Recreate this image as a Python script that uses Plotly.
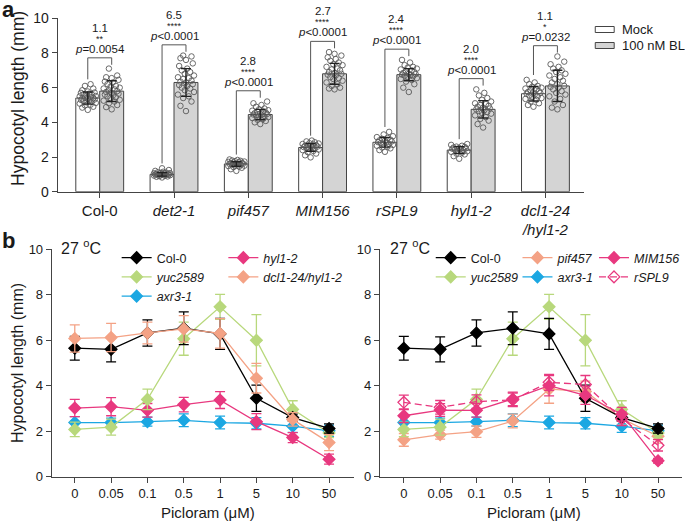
import plotly.graph_objects as go

W, H = 685, 521
def px(x): return x / W
def py(y): return 1 - y / H

FONT = "Liberation Sans, Arial, sans-serif"
TXT = "#1a1a1a"
AX = "#444444"

# ---------------- Panel a data ----------------
tick_text_a = ["Col-0", "<i>det2-1</i>", "<i>pif457</i>", "<i>MIM156</i>", "<i>rSPL9</i>",
               "<i>hyl1-2</i>", "<i>dcl1-24</i><br><i>/hyl1-2</i>"]
mock_mean = [5.4, 1.0, 1.6, 2.55, 2.85, 2.4, 5.65]
bl_mean = [5.8, 6.3, 4.45, 6.8, 6.75, 4.75, 6.1]
mock_sd = [0.35, 0.1, 0.13, 0.22, 0.28, 0.2, 0.42]
bl_sd = [0.6, 0.8, 0.3, 0.6, 0.35, 0.5, 0.9]
fold_change = ["1.1", "6.5", "2.8", "2.7", "2.4", "2.0", "1.1"]
stars = ["**", "****", "****", "****", "****", "****", "*"]
p_values = ["<i>p</i>=0.0054", "<i>p</i>&lt;0.0001", "<i>p</i>&lt;0.0001", "<i>p</i>&lt;0.0001",
            "<i>p</i>&lt;0.0001", "<i>p</i>&lt;0.0001", "<i>p</i>=0.0232"]

col0_mock = [4.72, 4.85, 4.9, 4.98, 5.02, 5.08, 5.12, 5.15, 5.2, 5.22, 5.25, 5.3, 5.32, 5.35, 5.38, 5.4,
             5.42, 5.45, 5.5, 5.52, 5.55, 5.6, 5.62, 5.65, 5.7, 5.72, 5.78, 5.85, 5.95, 6.1, 6.2]
col0_bl = [4.75, 4.88, 5.0, 5.1, 5.2, 5.25, 5.3, 5.4, 5.45, 5.5, 5.55, 5.6, 5.65, 5.7, 5.75, 5.8, 5.85,
           5.9, 5.95, 6.0, 6.05, 6.1, 6.2, 6.3, 6.35, 6.45, 6.55, 6.6, 6.7, 7.1]
det2_mock = [0.82, 0.86, 0.88, 0.9, 0.92, 0.93, 0.95, 0.96, 0.97, 0.98, 0.99, 1.0, 1.0, 1.01, 1.02, 1.03,
             1.04, 1.05, 1.06, 1.07, 1.08, 1.1, 1.12, 1.15, 1.2, 1.25, 1.35]
det2_bl = [4.65, 4.95, 5.2, 5.4, 5.5, 5.6, 5.75, 5.85, 5.95, 6.0, 6.1, 6.15, 6.2, 6.3, 6.35, 6.4, 6.5,
           6.55, 6.6, 6.7, 6.8, 6.9, 7.0, 7.1, 7.25, 7.4, 7.6, 7.7, 7.8, 7.85]
pif_mock = [1.2, 1.3, 1.38, 1.42, 1.45, 1.48, 1.5, 1.52, 1.55, 1.57, 1.58, 1.6, 1.62, 1.63, 1.65, 1.66,
            1.68, 1.7, 1.72, 1.74, 1.76, 1.78, 1.8, 1.83, 1.86]
pif_bl = [3.9, 4.0, 4.08, 4.15, 4.2, 4.25, 4.3, 4.33, 4.36, 4.4, 4.42, 4.45, 4.48, 4.5, 4.53, 4.56,
          4.6, 4.63, 4.67, 4.7, 4.75, 4.8, 4.9, 5.0, 5.1, 5.2]
mim_mock = [1.98, 2.1, 2.2, 2.28, 2.35, 2.4, 2.43, 2.46, 2.5, 2.52, 2.55, 2.57, 2.6, 2.62, 2.65, 2.68,
            2.7, 2.72, 2.75, 2.78, 2.8, 2.85, 2.9, 2.95]
mim_bl = [5.9, 5.95, 6.0, 6.1, 6.2, 6.3, 6.4, 6.5, 6.55, 6.6, 6.7, 6.75, 6.8, 6.85, 6.9, 7.0, 7.05, 7.1,
          7.2, 7.3, 7.35, 7.45, 7.55, 7.65, 7.75, 7.85, 7.95, 8.05]
rspl_mock = [2.3, 2.4, 2.5, 2.55, 2.6, 2.65, 2.7, 2.72, 2.75, 2.8, 2.83, 2.86, 2.9, 2.93, 2.96, 3.0,
             3.05, 3.1, 3.15, 3.2, 3.3, 3.45]
rspl_bl = [5.75, 6.0, 6.2, 6.35, 6.45, 6.5, 6.55, 6.6, 6.65, 6.7, 6.72, 6.75, 6.78, 6.8, 6.85, 6.9,
           6.95, 7.0, 7.05, 7.1, 7.15, 7.2, 7.3, 7.45, 7.6]
hyl_mock = [1.9, 2.05, 2.15, 2.2, 2.25, 2.3, 2.33, 2.36, 2.4, 2.42, 2.45, 2.48, 2.5, 2.52, 2.55, 2.58,
            2.6, 2.65, 2.7, 2.75]
hyl_bl = [3.7, 3.9, 4.1, 4.2, 4.3, 4.4, 4.5, 4.55, 4.6, 4.65, 4.7, 4.75, 4.8, 4.85, 4.9, 4.95, 5.0,
          5.05, 5.1, 5.2, 5.3, 5.4, 5.55, 5.7, 5.9]
dcl_mock = [4.9, 5.0, 5.1, 5.2, 5.3, 5.35, 5.4, 5.45, 5.5, 5.55, 5.6, 5.65, 5.7, 5.72, 5.75, 5.8, 5.85,
            5.9, 5.95, 6.0, 6.05, 6.1, 6.2, 6.3, 6.45]
dcl_bl = [4.75, 4.85, 5.0, 5.2, 5.35, 5.5, 5.6, 5.7, 5.8, 5.9, 6.0, 6.05, 6.1, 6.2, 6.3, 6.4, 6.5,
          6.6, 6.7, 6.8, 6.9, 7.0, 7.1, 7.2, 7.35, 7.5, 7.8]
mock_points = [col0_mock, det2_mock, pif_mock, mim_mock, rspl_mock, hyl_mock, dcl_mock]
bl_points = [col0_bl, det2_bl, pif_bl, mim_bl, rspl_bl, hyl_bl, dcl_bl]

# ---------------- Panel b data ----------------
picloram = ["0", "0.05", "0.1", "0.5", "1", "5", "10", "50"]
col0_b = [5.65, 5.6, 6.32, 6.53, 6.28, 3.45, 2.6, 2.12]
col0_b_sd = [0.52, 0.55, 0.58, 0.72, 0.68, 0.58, 0.15, 0.2]
yuc_b = [2.08, 2.18, 3.4, 6.07, 7.47, 6.0, 2.96, 1.92]
yuc_b_sd = [0.32, 0.35, 0.45, 0.73, 0.55, 1.13, 0.38, 0.2]
hyl_b = [3.02, 3.08, 2.92, 3.17, 3.37, 2.42, 1.72, 0.77]
hyl_b_sd = [0.38, 0.4, 0.3, 0.32, 0.37, 0.35, 0.22, 0.22]
dcl_b = [6.08, 6.12, 6.32, 6.5, 6.3, 4.33, 2.52, 1.5]
dcl_b_sd = [0.6, 0.62, 0.48, 0.58, 0.65, 0.65, 0.3, 0.35]
axr_b = [2.38, 2.38, 2.42, 2.48, 2.38, 2.35, 2.22, 2.02]
axr_b_sd = [0.26, 0.2, 0.2, 0.28, 0.28, 0.25, 0.27, 0.25]
pif_b = [1.62, 1.85, 1.98, 2.45, 3.85, 3.75, 2.55, 1.78]
pif_b_sd = [0.28, 0.2, 0.25, 0.3, 0.62, 0.45, 0.28, 0.3]
mim_b = [2.68, 2.93, 2.92, 3.42, 4.0, 3.58, 2.75, 0.7]
mim_b_sd = [0.3, 0.28, 0.3, 0.3, 0.45, 0.4, 0.3, 0.1]
rspl_b = [3.27, 3.05, 3.3, 3.38, 4.15, 4.05, 2.55, 1.38]
rspl_b_sd = [0.32, 0.3, 0.3, 0.3, 0.35, 0.4, 0.3, 0.25]

C_BLACK = "#000000"
C_GREEN = "#b8d87c"
C_PINK = "#e8387f"
C_SALMON = "#f4a285"
C_BLUE = "#1ba7e2"

fig = go.Figure()

# ---------------- Panel a ----------------
BW = 0.322
n = len(mock_mean)
mock_x = [i - BW / 2 for i in range(n)]
bl_x = [i + BW / 2 for i in range(n)]

fig.add_trace(go.Bar(x=mock_x, y=mock_mean, width=BW, marker=dict(color="white", line=dict(color=AX, width=1)),
                     showlegend=False, xaxis="x", yaxis="y"))
fig.add_trace(go.Bar(x=bl_x, y=bl_mean, width=BW, marker=dict(color="#d4d4d4", line=dict(color=AX, width=1)),
                     showlegend=False, xaxis="x", yaxis="y"))

SWARM = [0.0, -0.55, 0.55, -0.28, 0.28, -0.8, 0.8, -0.12, 0.42, -0.42, 0.12, -0.68, 0.68]
def swarm_x(center, values, half=0.135):
    order = sorted(range(len(values)), key=lambda k: values[k])
    xs = [0.0] * len(values)
    for rank, k in enumerate(order):
        xs[k] = center + SWARM[rank % len(SWARM)] * half
    return xs

pt_x, pt_y = [], []
for i in range(n):
    pt_x += swarm_x(mock_x[i], mock_points[i]); pt_y += mock_points[i]
    pt_x += swarm_x(bl_x[i], bl_points[i]); pt_y += bl_points[i]
fig.add_trace(go.Scatter(x=pt_x, y=pt_y, mode="markers", showlegend=False, xaxis="x", yaxis="y",
                         marker=dict(symbol="circle-open", size=5.5, color="#5a5a5a", line=dict(width=0.9))))
fig.add_trace(go.Scatter(x=mock_x + bl_x, y=mock_mean + bl_mean, mode="markers", showlegend=False,
                         xaxis="x", yaxis="y", marker=dict(size=1, opacity=0),
                         error_y=dict(type="data", array=mock_sd + bl_sd, color="#222", thickness=1.4, width=5)))

shapes = []
annotations = []
for i in range(n):
    top_bl = max(bl_points[i])
    top_m = max(mock_points[i])
    yb = max(top_bl, top_m) + 0.62
    shapes.append(dict(type="path", xref="x", yref="y",
                       path=f"M {mock_x[i]},{top_m + 0.28} L {mock_x[i]},{yb} L {bl_x[i]},{yb} L {bl_x[i]},{top_bl + 0.22}",
                       line=dict(color="#555", width=1)))
    for txt, sz, sh in [(p_values[i], 11.5, 9), (stars[i], 9, 19), (fold_change[i], 11.5, 30)]:
        annotations.append(dict(x=i, y=yb, xref="x", yref="y", text=txt, showarrow=False, yshift=sh,
                                xanchor="center", yanchor="middle",
                                font=dict(size=sz, color=TXT, family=FONT)))

# legend for panel a
for yc, fillc, label in [(29.5, "white", "Mock"), (45.5, "#d4d4d4", "100 nM BL")]:
    shapes.append(dict(type="rect", xref="paper", yref="paper", x0=px(597), x1=px(616),
                       y0=py(yc + 3), y1=py(yc - 3), fillcolor=fillc, line=dict(color=AX, width=1)))
    annotations.append(dict(x=px(622), y=py(yc), xref="paper", yref="paper", text=label, showarrow=False,
                            xanchor="left", yanchor="middle", font=dict(size=13, color=TXT, family=FONT)))

# ---------------- Panel b ----------------
xb = list(range(len(picloram)))
def line_trace(y, sd, color, name, axes, legend, rank, symbol="diamond", dash="solid", showlegend=True):
    return go.Scatter(x=xb, y=y, mode="lines+markers", name=name, legend=legend, legendrank=rank,
                      showlegend=showlegend, xaxis=axes[0], yaxis=axes[1],
                      line=dict(color=color, width=1.3, dash=dash),
                      marker=dict(symbol=symbol, size=9, color=color, line=dict(color=color, width=1.3)),
                      error_y=dict(type="data", array=sd, color=color, thickness=1.3, width=5))

L = ("x2", "y2")
R = ("x3", "y3")
fig.add_trace(line_trace(axr_b, axr_b_sd, C_BLUE, "<i>axr3-1</i>", L, "legend", 3))
fig.add_trace(line_trace(hyl_b, hyl_b_sd, C_PINK, "<i>hyl1-2</i>", L, "legend2", 1))
fig.add_trace(line_trace(yuc_b, yuc_b_sd, C_GREEN, "<i>yuc2589</i>", L, "legend", 2))
fig.add_trace(line_trace(col0_b, col0_b_sd, C_BLACK, "Col-0", L, "legend", 1))
fig.add_trace(line_trace(dcl_b, dcl_b_sd, C_SALMON, "<i>dcl1-24/hyl1-2</i>", L, "legend2", 2))

fig.add_trace(line_trace(axr_b, axr_b_sd, C_BLUE, "<i>axr3-1</i>", R, "legend4", 2))
fig.add_trace(line_trace(pif_b, pif_b_sd, C_SALMON, "<i>pif457</i>", R, "legend4", 1))
fig.add_trace(line_trace(yuc_b, yuc_b_sd, C_GREEN, "<i>yuc2589</i>", R, "legend3", 2))
fig.add_trace(line_trace(col0_b, col0_b_sd, C_BLACK, "Col-0", R, "legend3", 1))
fig.add_trace(line_trace(mim_b, mim_b_sd, C_PINK, "<i>MIM156</i>", R, "legend5", 1))
fig.add_trace(line_trace(rspl_b, rspl_b_sd, C_PINK, "<i>rSPL9</i>", R, "legend5", 2,
                         symbol="diamond-open", dash="7px,4px"))

# text annotations
def pa(x, y, text, size, xanchor="center", **kw):
    d = dict(x=px(x), y=py(y), xref="paper", yref="paper", text=text, showarrow=False,
             xanchor=xanchor, yanchor="middle", font=dict(size=size, color=TXT, family=FONT))
    d.update(kw)
    annotations.append(d)

pa(9, 10, "<b>a</b>", 22)
pa(9, 241, "<b>b</b>", 22)
pa(18, 98, "Hypocotyl length (mm)", 17.5, textangle=-90)
pa(17, 363, "Hypocotyl length (mm)", 16, textangle=-90)
pa(209, 512, "Picloram (μM)", 15)
pa(536, 512, "Picloram (μM)", 15)
pa(59, 247, "27 <sup>o</sup>C", 16, xanchor="left")
pa(389, 247, "27 <sup>o</sup>C", 16, xanchor="left")

axis_common = dict(showline=True, linecolor=AX, linewidth=1.3, ticks="outside", ticklen=5, tickwidth=1.2,
                   tickcolor=AX, showgrid=False, zeroline=False, automargin=False,
                   tickfont=dict(family=FONT, color=TXT))

legend_common = dict(bgcolor="rgba(0,0,0,0)", font=dict(size=12.5, color=TXT, family=FONT),
                     xanchor="left", yanchor="top", orientation="v", tracegroupgap=0, itemwidth=30)

fig.update_layout(
    template="none",
    width=W, height=H, margin=dict(l=0, r=0, t=0, b=0, pad=0), autosize=False,
    paper_bgcolor="white", plot_bgcolor="white", barmode="overlay",
    font=dict(family=FONT, color=TXT),
    xaxis=dict(**axis_common, domain=[px(58), px(586)], range=[-0.564, 6.523], tickvals=list(range(n)),
               ticktext=tick_text_a, anchor="y", tickfont_size=15),
    yaxis=dict(**axis_common, domain=[py(191.7), py(18.3)], range=[0, 10], tickvals=[0, 2, 4, 6, 8, 10],
               anchor="x", tickfont_size=14),
    xaxis2=dict(**axis_common, domain=[px(52), px(355)], range=[-0.631, 7.686], tickvals=xb, ticktext=picloram,
                anchor="y2", tickfont_size=13),
    yaxis2=dict(**axis_common, domain=[py(476.7), py(249.3)], range=[0, 10], tickvals=[0, 2, 4, 6, 8, 10],
                anchor="x2", tickfont_size=13),
    xaxis3=dict(**axis_common, domain=[px(381), px(684)], range=[-0.659, 7.66], tickvals=xb, ticktext=picloram,
                anchor="y3", tickfont_size=13),
    yaxis3=dict(**axis_common, domain=[py(476.7), py(249.3)], range=[0, 10], tickvals=[0, 2, 4, 6, 8, 10],
                anchor="x3", tickfont_size=13),
    legend=dict(**legend_common, x=px(117), y=py(243)),
    legend2=dict(**legend_common, x=px(224), y=py(243)),
    legend3=dict(**legend_common, x=px(432), y=py(243)),
    legend4=dict(**legend_common, x=px(519), y=py(243)),
    legend5=dict(**legend_common, x=px(596), y=py(243)),
    shapes=shapes, annotations=annotations,
)

fig.write_html("out.html", config={"displayModeBar": False},
               post_script="document.body.style.margin='0px';")
